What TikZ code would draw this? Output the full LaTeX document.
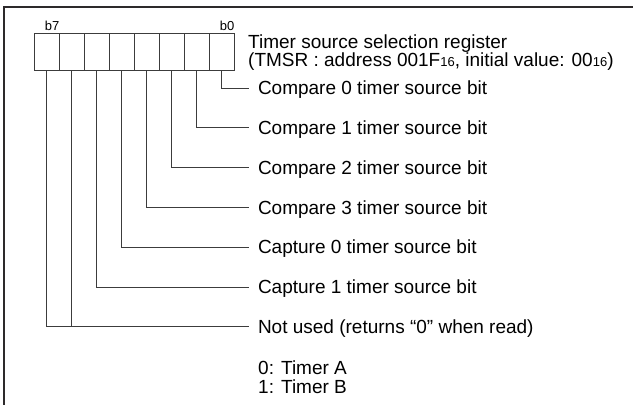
\documentclass[tikz,border=0pt]{standalone}
\usepackage{fontspec}
\setmainfont{Liberation Sans}
\usetikzlibrary{positioning}
\definecolor{framegray}{RGB}{45,42,43}
\definecolor{leadgray}{RGB}{60,60,60}
\newcommand\regsub[1]{{\fontsize{13}{13}\selectfont #1}}

\begin{document}
\begin{tikzpicture}[x=1pt,y=1pt,
cell/.style={draw=leadgray,line width=1pt,minimum width=25pt,minimum height=36.7pt,inner sep=0pt},
bitlbl/.style={font=\fontsize{13}{13}\selectfont,inner sep=0pt,anchor=base east},
lbl/.style={font=\fontsize{19}{18.4}\selectfont,inner sep=0pt,outer xsep=9pt,anchor=west,text height=13.6pt,text depth=0pt},
txt/.style={font=\fontsize{19}{18.4}\selectfont,inner sep=0pt,anchor=base west,align=left},
lead/.style={draw=leadgray,line width=.9pt},
frame/.style={draw=framegray,line width=2.6pt}]
\useasboundingbox(0,0)rectangle(633,405);

\draw[frame](633,398)--(4,398)--(4,0);

% register cells, b7 on the left
\foreach \i in {0,...,7}
  \node[cell](b\i)at({46.5+25*(7-\i)},352.65){};
\node[bitlbl](t7)at([yshift=3.3pt]b7.north east){b7};
\node[bitlbl](t0)at([yshift=3.3pt]b0.north east){b0};
\node[txt](title)at(248,338.3){Timer source selection register\\(TMSR : address 001F\regsub{16}, initial value: 00\regsub{16})};

% bit labels
\foreach \i/\name in {0/Compare 0,1/Compare 1,2/Compare 2,3/Compare 3,4/Capture 0,5/Capture 1}
  \node[lbl](l\i)at(249,{317-39.8*\i}){\name\ timer source bit};
\node[lbl](l6)at(249,78.2){Not used (returns “0” when read)};
\foreach \i in {0,...,6}
  \draw[lead](b\i.south)|-(l\i.west);
\draw[lead](b7.south)|-(l6.west);

\node[txt](vals)at(258,11.7){0: Timer A\\1: Timer B};
\end{tikzpicture}
\end{document}
